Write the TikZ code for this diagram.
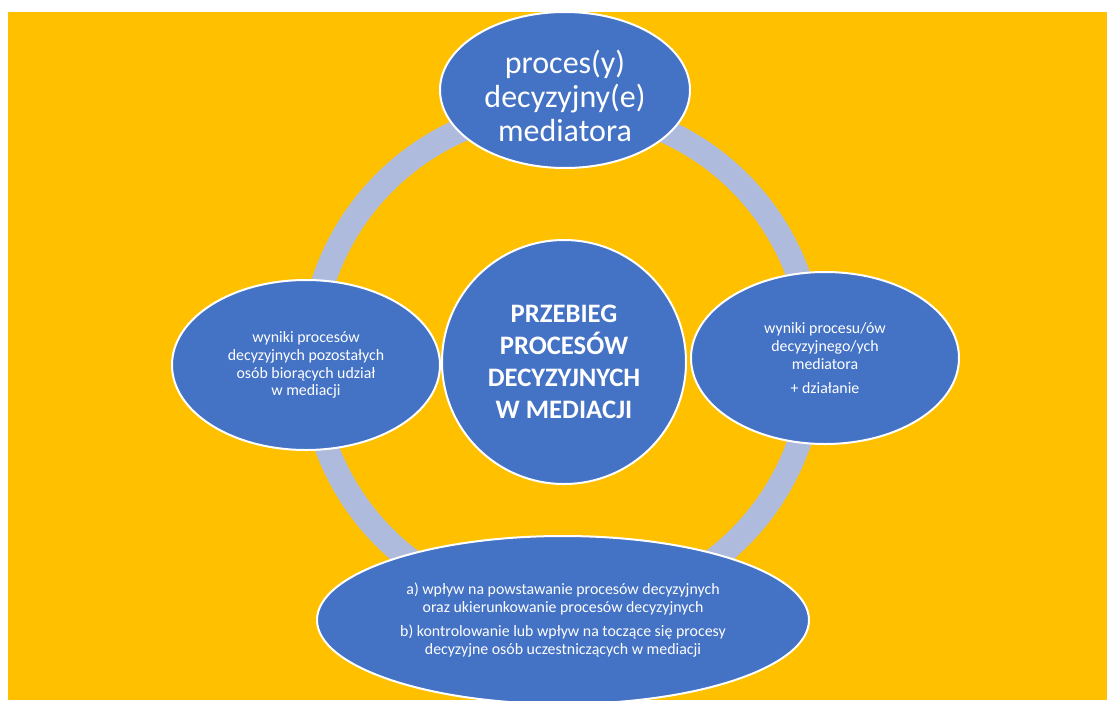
\documentclass[tikz,border=0pt]{standalone}
\usepackage{fontspec}
\setmainfont{Carlito}
\usetikzlibrary{shapes.geometric}
\definecolor{tlo}{HTML}{FFC000}
\definecolor{niebieski}{HTML}{4472C4}
\definecolor{pierscien}{HTML}{AFBBDD}

\begin{document}
\begin{tikzpicture}[x=0.75pt, y=-0.75pt,
	owal/.style={ellipse, draw=white, line width=1.5pt, fill=niebieski, text=white, align=center, inner sep=0pt},
	maly/.style={font=\fontsize{11.9}{13.3}\selectfont}]
			% Set the size of the page
			\path[use as bounding box] (0,0) rectangle (1107,700);
			\clip (0,0) rectangle (1107,700);
			\fill[tlo] (8,12) rectangle (1107,700);

			% Ring behind the nodes
			\def\radius{188.25pt}
			\draw[pierscien, line width=18pt] (562,360) circle[radius=\radius];

			% Outer nodes
			\node[owal, minimum width=201pt, minimum height=127.5pt, maly] (lewy) at (306,365)
				{wyniki procesów\\decyzyjnych pozostałych\\osób biorących udział\\w mediacji};
			\node[owal, minimum width=201pt, minimum height=129pt, maly] (prawy) at (825,358)
				{wyniki procesu/ów\\decyzyjnego/ych\\mediatora\\[4.5pt]+ działanie};
			\node[owal, minimum width=187.5pt, minimum height=117pt] (gora) at (565,90) {};
			\node[text=white, align=center, font=\fontsize{24}{25.5}\selectfont] (goraTekst) at ([yshift=-4.5pt]gora.center)
				{proces(y)\\decyzyjny(e)\\mediatora};
			\node[owal, minimum width=369pt, minimum height=126pt, maly] (dol) at (563,620)
				{a) wpływ na powstawanie procesów decyzyjnych\\oraz ukierunkowanie procesów decyzyjnych\\[4.5pt]b) kontrolowanie lub wpływ na toczące się procesy\\decyzyjne osób uczestniczących w mediacji};

			% Centre of the cycle
			\node[owal, circle, minimum size=183pt, font=\fontsize{20}{24}\selectfont\bfseries] (srodek) at (564,362)
				{PRZEBIEG\\PROCESÓW\\DECYZYJNYCH\\W MEDIACJI};
		\end{tikzpicture}
\end{document}
